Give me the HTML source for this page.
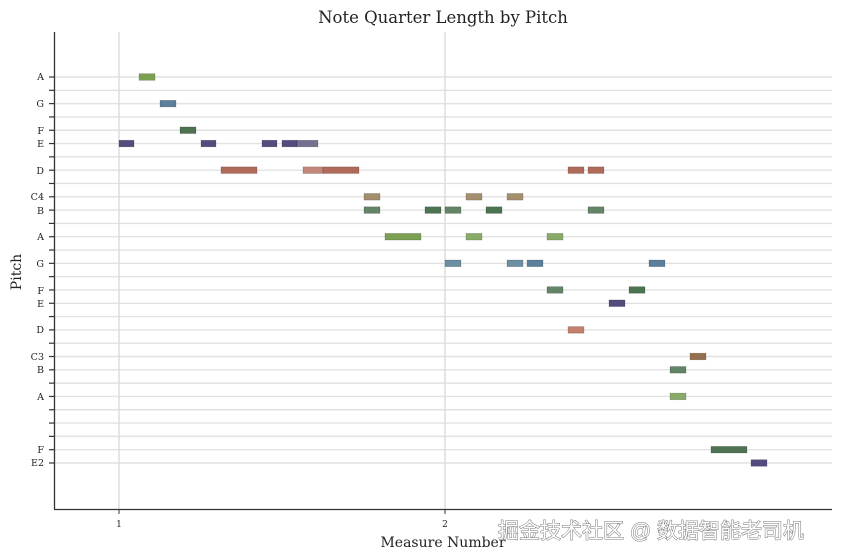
<!DOCTYPE html>
<html><head><meta charset="utf-8">
<style>
html,body{margin:0;padding:0;background:#fff;}
svg{display:block;}
text{font-family:"DejaVu Serif","Liberation Serif",serif;fill:#222;}
.wm{font-family:"Liberation Sans","Noto Sans CJK SC",sans-serif;font-size:21px;fill:#fff;stroke:#777;stroke-width:1;paint-order:stroke;}
</style></head>
<body>
<svg id="s" width="842" height="560" viewBox="0 0 842 560" xmlns="http://www.w3.org/2000/svg">
<g id="grid"></g>
<line x1="119" y1="32" x2="119" y2="509" stroke="#ddd" stroke-width="1.5"/>
<line x1="445" y1="32" x2="445" y2="509" stroke="#ddd" stroke-width="1.5"/>
<g id="notes"></g>
<line x1="54.5" y1="32" x2="54.5" y2="509" stroke="#333" stroke-width="1.3"/>
<line x1="54" y1="509.5" x2="832" y2="509.5" stroke="#333" stroke-width="1.3"/>
<line x1="119" y1="509" x2="119" y2="514" stroke="#333"/>
<line x1="445" y1="509" x2="445" y2="514" stroke="#333"/>
<text x="119" y="527" font-size="9" text-anchor="middle">1</text>
<text x="445" y="527" font-size="9" text-anchor="middle">2</text>
<text x="443" y="547" font-size="14" text-anchor="middle">Measure Number</text>
<text x="443" y="23" font-size="16.5" text-anchor="middle">Note Quarter Length by Pitch</text>
<text transform="translate(21,272) rotate(-90)" font-size="14" text-anchor="middle">Pitch</text>
<g font-size="9.5" text-anchor="end" id="labels">
<text x="44" y="80">A</text>
<text x="44" y="107">G</text>
<text x="44" y="134">F</text>
<text x="44" y="147">E</text>
<text x="44" y="174">D</text>
<text x="44" y="200">C4</text>
<text x="44" y="214">B</text>
<text x="44" y="240">A</text>
<text x="44" y="267">G</text>
<text x="44" y="294">F</text>
<text x="44" y="307">E</text>
<text x="44" y="333">D</text>
<text x="44" y="360">C3</text>
<text x="44" y="373">B</text>
<text x="44" y="400">A</text>
<text x="44" y="453">F</text>
<text x="44" y="466">E2</text>
</g>
<text class="wm" x="498" y="538">掘金技术社区 @ 数据智能老司机</text>
</svg>
<script>
var ns="http://www.w3.org/2000/svg";
var g=document.getElementById("grid");
function Y(k){return 77+k*13.31;}
for(var k=0;k<30;k++){
 var y=Y(k);
 var l=document.createElementNS(ns,"line");
 l.setAttribute("x1",54);l.setAttribute("x2",832);l.setAttribute("y1",y);l.setAttribute("y2",y);
 l.setAttribute("stroke","#e2e2e2");l.setAttribute("stroke-width","1.4");g.appendChild(l);
 var t=document.createElementNS(ns,"line");
 t.setAttribute("x1",49);t.setAttribute("x2",54);t.setAttribute("y1",y);t.setAttribute("y2",y);
 t.setAttribute("stroke","#333");t.setAttribute("stroke-width","1.2");g.appendChild(t);
}
var C={gA:"#7ba052",bl:"#5c8099",dg:"#4d7353",pu:"#524d7d",lp:"#74708f",rd:"#b06a5a",lr:"#c0877a",tn:"#a48e6e",gg:"#628467",lg:"#8aaa6a",lb:"#6c8ea3",br:"#96704e",rp:"#c2806f"};
var N=[
[139,155,0,"gA"],[160,176,2,"bl"],[180,196,4,"dg"],
[119,134,5,"pu"],[201,216,5,"pu"],[262,277,5,"pu"],[282,297,5,"pu"],[297,318,5,"lp"],
[221,257,7,"rd"],[303,323,7,"lr"],[323,359,7,"rd"],[568,584,7,"rd"],[588,604,7,"rd"],
[364,380,9,"tn"],[466,482,9,"tn"],[507,523,9,"tn"],
[364,380,10,"gg"],[425,441,10,"dg"],[445,461,10,"gg"],[486,502,10,"dg"],[588,604,10,"gg"],
[385,421,12,"gA"],[466,482,12,"lg"],[547,563,12,"lg"],
[445,461,14,"lb"],[507,523,14,"lb"],[527,543,14,"bl"],[649,665,14,"bl"],
[547,563,16,"gg"],[629,645,16,"dg"],
[609,625,17,"pu"],[568,584,19,"rp"],
[690,706,21,"br"],[670,686,22,"gg"],[670,686,24,"lg"],
[711,747,28,"dg"],[751,767,29,"pu"]];
var ng=document.getElementById("notes");
N.forEach(function(n){
 var r=document.createElementNS(ns,"rect");
 r.setAttribute("x",n[0]);r.setAttribute("width",n[1]-n[0]);
 r.setAttribute("y",Y(n[2])-3.3);r.setAttribute("height",6.6);
 r.setAttribute("fill",C[n[3]]);r.setAttribute("stroke","rgba(0,0,0,0.25)");r.setAttribute("stroke-width","0.6");
 ng.appendChild(r);
});
</script>
</body></html>
